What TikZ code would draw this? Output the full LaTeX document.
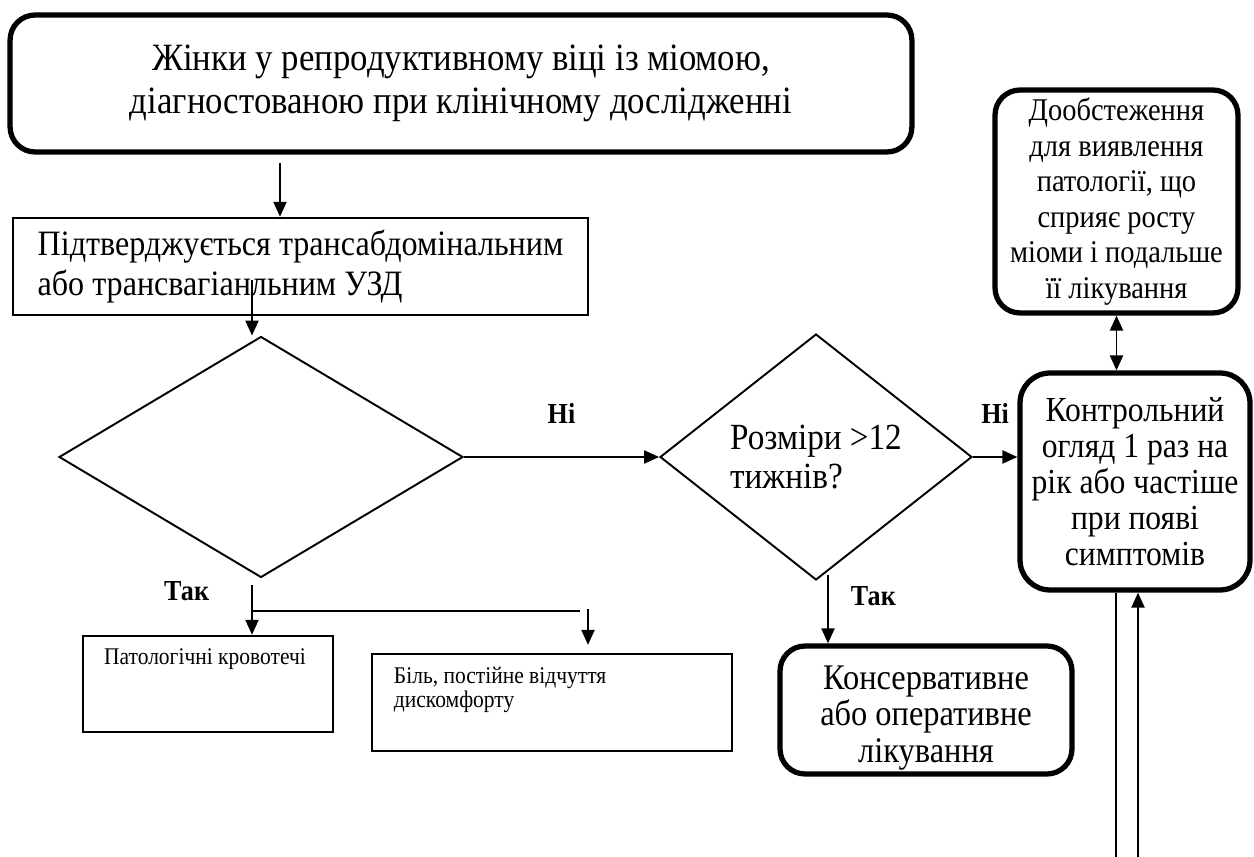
\documentclass[tikz,border=0pt]{standalone}
\usepackage{fontspec}
\setmainfont{Liberation Serif}[FakeStretch=0.9]
\usetikzlibrary{arrows.meta, shapes.geometric, positioning, calc}

\begin{document}
\begin{tikzpicture}[x=0.02cm, y=-0.02cm, line width=1.1pt,
    >={Triangle[length=8.5pt,width=7.4pt]},
    roundbox/.style={draw, line width=3pt, rounded corners=0.5cm, align=center, inner sep=0pt},
    plainbox/.style={draw, line width=1.4pt, inner sep=0pt},
    decision/.style={draw, diamond, line width=1.1pt, inner sep=0pt},
    lbl/.style={font=\fontsize{16.5}{18}\selectfont\bfseries, inner sep=0pt}]
      \useasboundingbox (0,0) rectangle (1254,857);

      \node[roundbox, minimum width=18.04cm, minimum height=2.74cm, font=\fontsize{22}{24.4}\selectfont] (women) at (461,83.5) {Жінки у репродуктивному віці із міомою,\\діагностованою при клінічному дослідженні};
      \node[plainbox, minimum width=11.5cm, minimum height=1.94cm, align=left, font=\fontsize{20.3}{22.7}\selectfont] (uzd) at (300.5,266.5) {Підтверджується трансабдомінальним\\або трансвагіанльним УЗД};

      \node[decision, minimum width=8.08cm, minimum height=4.82cm] (dec1) at (261,457) {};
      \node[decision, minimum width=6.24cm, minimum height=4.92cm, align=left, font=\fontsize{21}{22}\selectfont] (size) at (816,457) {Розміри >12\\тижнів?};

      \node[roundbox, minimum width=4.86cm, minimum height=4.46cm, font=\fontsize{18}{20.2}\selectfont] (doobst) at (1116.5,201.5) {Дообстеження\\для виявлення\\патології, що\\сприяє росту\\міоми і подальше\\її лікування};
      \node[roundbox, rounded corners=0.6cm, minimum width=4.6cm, minimum height=4.34cm, font=\fontsize{20}{20.4}\selectfont] (kontrol) at (1135,481.5) {Контрольний\\огляд 1 раз на\\рік або частіше\\при появі\\симптомів};
      \node[roundbox, minimum width=5.84cm, minimum height=2.56cm] (konserv) at (926,710) {};
      \node[align=center, inner sep=0pt, font=\fontsize{20.5}{20.8}\selectfont] (konservtxt) at (926,718) {Консервативне\\або оперативне\\лікування};

      \node[plainbox, minimum width=5cm, minimum height=1.92cm] (bleed) at (208,684) {};
      \node[inner sep=0pt, font=\fontsize{13.6}{13.6}\selectfont] (bleedtxt) at (205,659) {Патологічні кровотечі};
      \node[plainbox, minimum width=7.2cm, minimum height=1.94cm] (pain) at (552,702.5) {};
      \node[anchor=west, align=left, inner sep=0pt, font=\fontsize{13.6}{13.6}\selectfont] (paintxt) at (393,690) {Біль, постійне відчуття\\дискомфорту};

      \coordinate (xtop) at (280,163);
      \coordinate (xuzd) at (252,280);
      \coordinate (fork) at (252,611);
      \coordinate (paindrop) at (588,609);
      \coordinate (xsize) at (828,575);
      \coordinate (outl) at (1116,857);
      \coordinate (backl) at (1138,857);

      \draw[->] (xtop) -- (xtop |- uzd.north);
      \draw[->] (xuzd) -- (xuzd |- dec1.north);
      \draw[->] (dec1.east) -- node[lbl, above=0.66cm] (no1) {Ні} (size.west);
      \draw[->] (size.east) -- node[lbl, above=0.66cm] (no2) {Ні} (size.east -| kontrol.west);
      \draw[<->] (doobst.south) -- (doobst.south |- kontrol.north);
      \draw (outl |- kontrol.south) -- (outl);
      \draw[->] (backl) -- (backl |- kontrol.south);

      \draw[->, shorten <=4pt] (xuzd |- dec1.south) -- node[lbl, pos=0.23, left=0.84cm] (yes1) {Так} (xuzd |- bleed.north);
      \draw (fork) -- ++(328,0);
      \draw[->, shorten >=4.5pt] (paindrop) -- (paindrop |- pain.north);
      \draw[->] (xsize) -- node[lbl, pos=0.31, right=0.44cm] (yes2) {Так} (xsize |- konserv.north);

    \end{tikzpicture}
\end{document}
